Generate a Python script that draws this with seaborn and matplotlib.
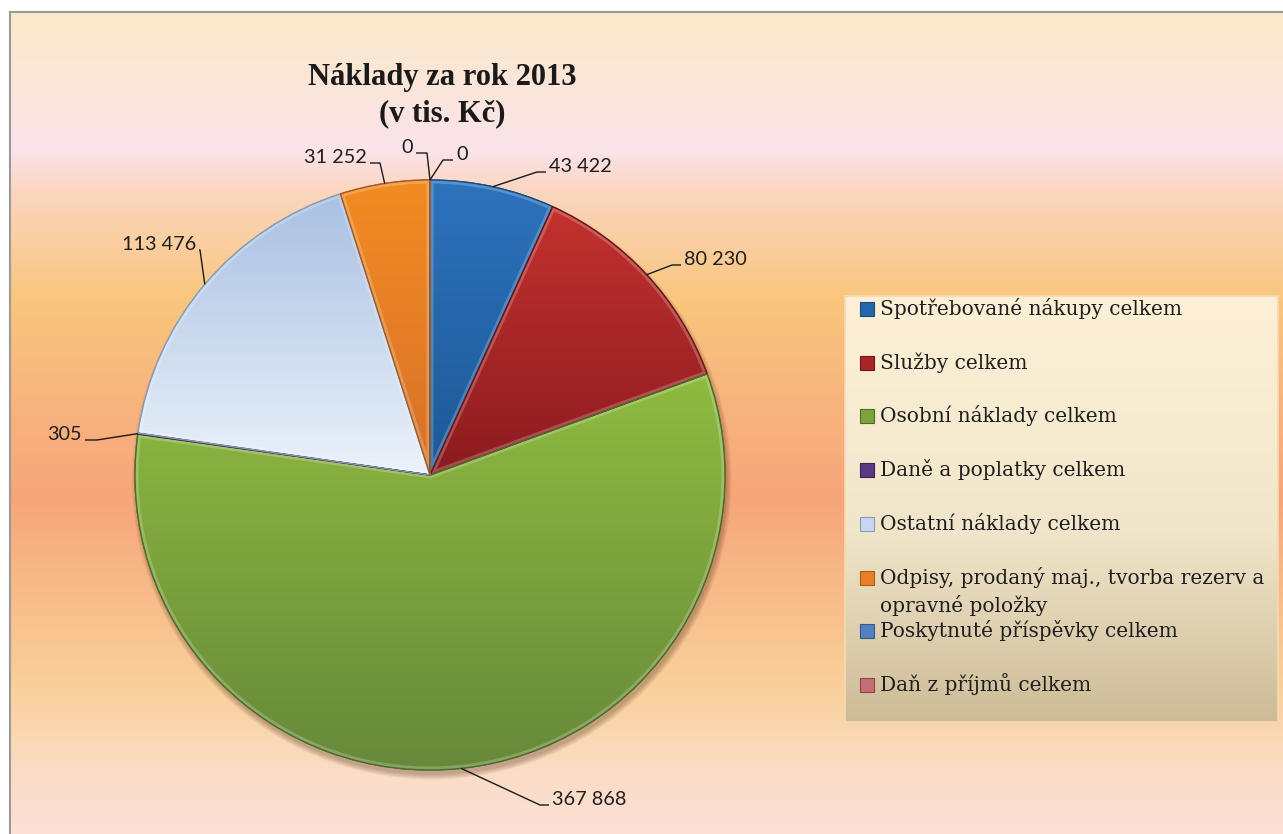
import numpy as np
import matplotlib
matplotlib.use("Agg")
import matplotlib.pyplot as plt
from matplotlib.patches import Wedge, Rectangle, Circle
from matplotlib.colors import to_rgb
import seaborn as sns

# ---------------- data ----------------
categories = [
    "Spotřebované nákupy celkem",
    "Služby celkem",
    "Osobní náklady celkem",
    "Daně a poplatky celkem",
    "Ostatní náklady celkem",
    "Odpisy, prodaný maj., tvorba rezerv a\nopravné položky",
    "Poskytnuté příspěvky celkem",
    "Daň z příjmů celkem",
]
values = [43422, 80230, 367868, 305, 113476, 31252, 0, 0]
title_lines = ["Náklady za rok 2013", "(v tis. Kč)"]

# ---------------- style ----------------
colors_top = ['#2d73bd', '#c3322f', '#8fbb40', '#6a4496', '#a9c0e2', '#f38b22', '#5b8ccb', '#d08a8e']
colors_bot = ['#1d5896', '#8c1b1f', '#67893a', '#4b2d6e', '#ebf2fa', '#d6722a', '#3f6aa6', '#b0585e']
colors_mid = ['#2565ad', '#a82427', '#7ea33d', '#5b3a84', '#c9d8ee', '#ea7f25', '#5280c0', '#c46f76']
edge_cols = ['#174a80', '#6e1518', '#4f6b2a', '#3a2356', '#8a9bb5', '#a85a1c', '#34598c', '#8c4448']

sns.set_theme(style="white")
plt.rcParams['font.family'] = ['DejaVu Sans']

W, H = 1283, 834
fig = plt.figure(figsize=(W / 100, H / 100), dpi=100)
fig.patch.set_facecolor('white')

# ---- background gradient panel ----
bx0, by_top = 10, 12
bg_ax = fig.add_axes([bx0 / W, 0, 1 - bx0 / W, (H - by_top) / H])
stops_y = [12, 80, 150, 190, 300, 400, 500, 600, 690, 770, 834]
stops_c = ['#faeacb', '#fae6d8', '#fbe3ea', '#fbd6c0', '#f9c67c', '#f8b47e', '#f6a67a',
           '#f8bd8a', '#f9d19c', '#fbdcc4', '#fde0d8']
ys = np.arange(by_top, H)
rgb = np.array([to_rgb(c) for c in stops_c])
grad = np.stack([np.interp(ys, stops_y, rgb[:, k]) for k in range(3)], axis=-1)[:, None, :]
bg_ax.imshow(grad, aspect='auto', extent=(0, 1, 0, 1), origin='upper')
bg_ax.set_xlim(0, 1); bg_ax.set_ylim(0, 1)
bg_ax.set_xticks([]); bg_ax.set_yticks([])
for s in ['right', 'bottom']:
    bg_ax.spines[s].set_visible(False)
for s in ['left', 'top']:
    bg_ax.spines[s].set_color('#9a9a9a'); bg_ax.spines[s].set_linewidth(1.5)
bg_ax.set_zorder(0)

# ---- pie axes ----
CX, CY, R = 430, 475, 295
half = 1.5
ax = fig.add_axes([(CX - half * R) / W, (H - CY - half * R) / H, 2 * half * R / W, 2 * half * R / H])
ax.set_zorder(1)
ax.patch.set_alpha(0)


def P(px, py):
    return ((px - CX) / R, (CY - py) / R)


# soft shadow (tight, offset down-right)
for i in range(5):
    ax.add_patch(Circle((0.006, -0.016), 1.0 + 0.004 * i, facecolor='#4a2a10', alpha=0.07,
                        lw=0, zorder=0.5))

wedges, _ = ax.pie(values, startangle=90, counterclock=False, colors=colors_mid,
                   radius=1.0, center=(0, 0),
                   wedgeprops=dict(linewidth=0.9))
for i, w in enumerate(wedges):
    w.set_edgecolor(edge_cols[i])
    w.set_zorder(2)
    if values[i] == 0:
        continue
    ext = w.get_path().get_extents()
    n = 200
    t = np.linspace(0, 1, n)[:, None]
    c0 = np.array(to_rgb(colors_bot[i])); c1 = np.array(to_rgb(colors_top[i]))
    g = (c0 * (1 - t) + c1 * t)[:, None, :]
    im = ax.imshow(g, extent=(ext.x0, ext.x1, ext.y0, ext.y1), origin='lower',
                   aspect='auto', zorder=2.1)
    im.set_clip_path(w)
    # inner bevel highlight
    hl = Wedge(w.center, w.r, w.theta1, w.theta2, facecolor='none', edgecolor='white',
               alpha=0.22, lw=5, zorder=2.2)
    ax.add_patch(hl)
    hl.set_clip_path(w)
    outline = Wedge(w.center, w.r, w.theta1, w.theta2, facecolor='none',
                    edgecolor=edge_cols[i], lw=1.0, zorder=2.3)
    ax.add_patch(outline)

# ---- data labels with leader lines ----
# layout: (elbow px, end px, side) ; side 'r' -> text right of line
label_layout = [
    ((537, 172), (546, 172), 'r'),
    ((672, 265), (681, 265), 'r'),
    ((540, 805), (549, 805), 'r'),
    ((97, 440), (85, 440), 'l'),
    ((200, 250), (199, 250), 'l'),
    ((380, 163), (370, 163), 'l'),
    ((427, 153), (416, 153), 'l'),
    ((443, 160), (453, 160), 'r'),
]
label_font = ['Lato', 'DejaVu Sans']
for i, w in enumerate(wedges):
    mid = np.deg2rad((w.theta1 + w.theta2) / 2)
    pt = (np.cos(mid), np.sin(mid))
    (ex, ey), (tx, ty), side = label_layout[i]
    e = P(ex, ey); t_ = P(tx, ty)
    ax.plot([pt[0], e[0], t_[0]], [pt[1], e[1], t_[1]], color='#1a1a1a', lw=1.0,
            zorder=3, clip_on=False, solid_capstyle='butt')
    txt = f"{values[i]:,}".replace(",", " ")
    off = 3 / R
    if side == 'r':
        ax.text(t_[0] + off, t_[1], txt, ha='left', va='baseline', fontsize=14.3,
                family=label_font, color='#1e1e1e', zorder=3)
    else:
        ax.text(t_[0] - off, t_[1], txt, ha='right', va='baseline', fontsize=14.3,
                family=label_font, color='#1e1e1e', zorder=3)

ax.set_xlim(-half, half); ax.set_ylim(-half, half)
ax.set_aspect('auto')
ax.axis('off')

# ---- title ----
title_font = ['Liberation Serif', 'DejaVu Serif']
fig.text(442 / W, 1 - 85 / H, title_lines[0], ha='center', va='baseline', fontsize=22,
         fontweight='bold', family=title_font, color='#1a1a1a')
fig.text(442 / W, 1 - 121 / H, title_lines[1], ha='center', va='baseline', fontsize=22,
         fontweight='bold', family=title_font, color='#1a1a1a')

# ---- legend (manual box) ----
lx0, ly0, lx1, ly1 = 845, 296, 1278, 722
lg = fig.add_axes([lx0 / W, 1 - ly1 / H, (lx1 - lx0) / W, (ly1 - ly0) / H])
lg.set_zorder(2)
lstops_y = [0, 0.55, 1.0]
lstops_c = ['#fdf0d6', '#f1e6cb', '#cdbb96']
yy = np.linspace(0, 1, 300)
lrgb = np.array([to_rgb(c) for c in lstops_c])
lgrad = np.stack([np.interp(yy, lstops_y, lrgb[:, k]) for k in range(3)], axis=-1)[:, None, :]
lg.imshow(lgrad, aspect='auto', extent=(0, 1, 0, 1), origin='upper')
lg.set_xlim(0, 1); lg.set_ylim(0, 1)
lg.set_xticks([]); lg.set_yticks([])
for s in lg.spines.values():
    s.set_color('#f8d9b4'); s.set_linewidth(1.2)

legend_font = ['DejaVu Serif']
row0, row_step, line_step = 315, 53.7, 29
for i, cat in enumerate(categories):
    base = row0 + i * row_step
    sq = Rectangle((860 / W, 1 - (base + 1) / H), 14 / W, 14 / H, transform=fig.transFigure,
                   facecolor=colors_mid[i], edgecolor=edge_cols[i], lw=0.8, zorder=5)
    fig.patches.append(sq)
    for j, line in enumerate(cat.split("\n")):
        fig.text(880 / W, 1 - (base + j * line_step) / H, line, ha='left', va='baseline',
                 fontsize=14.5, family=legend_font, color='#1e1e1e', zorder=6)

fig.savefig("out.png", dpi=100)
